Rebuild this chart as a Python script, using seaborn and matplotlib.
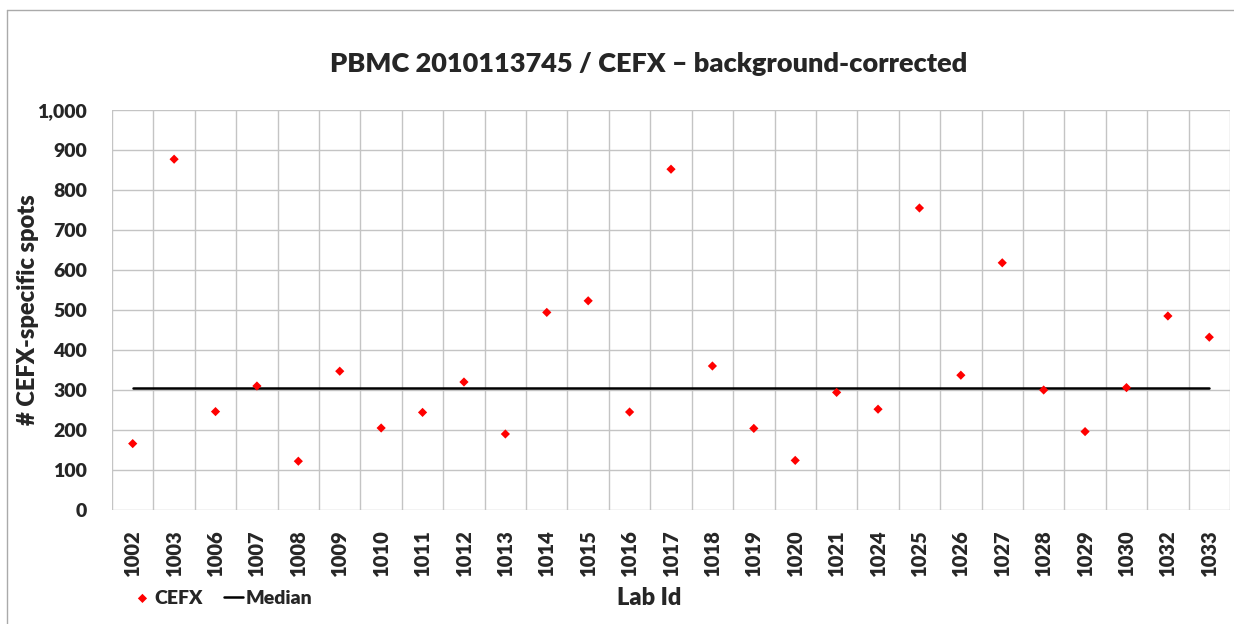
import numpy as np
import pandas as pd
import matplotlib
matplotlib.use("Agg")
import matplotlib.pyplot as plt
import seaborn as sns
from matplotlib.ticker import MultipleLocator, FuncFormatter

# data
lab_ids = ["1002", "1003", "1006", "1007", "1008", "1009", "1010", "1011", "1012",
           "1013", "1014", "1015", "1016", "1017", "1018", "1019", "1020", "1021",
           "1024", "1025", "1026", "1027", "1028", "1029", "1030", "1032", "1033"]
cefx_spots = [166, 877, 246, 310, 122, 347, 205, 244, 320,
              190, 494, 523, 245, 852, 360, 204, 124, 294,
              252, 755, 337, 618, 300, 196, 306, 485, 432]

median_value = float(np.median(cefx_spots))

df = pd.DataFrame({"Lab Id": lab_ids, "CEFX": cefx_spots})
df["Median"] = median_value

W = "heavy"

sns.set_style("white")
plt.rcParams["font.family"] = ["Lato", "DejaVu Sans"]
plt.rcParams["font.weight"] = W

fig = plt.figure(figsize=(12.34, 6.24), dpi=100)
ax = fig.add_axes([112 / 1234, 1 - 510 / 624, (1230 - 112) / 1234, 400 / 624])

sns.lineplot(data=df, x="Lab Id", y="Median", ax=ax, color="black", linewidth=1.8,
             label="Median", zorder=3)
sns.scatterplot(data=df, x="Lab Id", y="CEFX", ax=ax, color="red", marker="D",
                s=22, edgecolor="none", label="CEFX", zorder=4)

ax.set_xlim(-0.5, len(lab_ids) - 0.5)
ax.set_ylim(0, 1000)
ax.yaxis.set_major_locator(MultipleLocator(100))
ax.yaxis.set_major_formatter(FuncFormatter(lambda v, p: f"{int(v):,}"))

# grid lines between categories and at every 100
ax.set_xticks(np.arange(-0.5, len(lab_ids), 1.0), minor=True)
ax.grid(True, which="minor", axis="x", color="#c4c4c4", linewidth=1.0)
ax.grid(True, which="major", axis="y", color="#c4c4c4", linewidth=1.0)
ax.tick_params(which="both", length=0)
ax.tick_params(axis="x", which="major", pad=14, labelsize=14.5, rotation=90)
ax.tick_params(axis="y", pad=18, labelsize=14)
for lab in ax.get_xticklabels() + ax.get_yticklabels():
    lab.set_fontweight(W)
for s in ax.spines.values():
    s.set_visible(False)

ax.set_xlabel("")
ax.set_ylabel("# CEFX-specific spots", fontsize=17, fontweight=W, labelpad=-1)
fig.text(649 / 1234, 1 - 598 / 624, "Lab Id", ha="center", va="center",
         fontsize=17, fontweight=W)
fig.text(649 / 1234, 1 - 64 / 624, "PBMC 2010113745 / CEFX \u2013 background-corrected",
         ha="center", va="center", fontsize=19.5, fontweight=W)

# legend bottom-left
h, l = ax.get_legend_handles_labels()
order = [l.index("CEFX"), l.index("Median")]
ax.legend([h[i] for i in order], [l[i] for i in order], ncol=2, frameon=False,
          loc="center left", bbox_to_anchor=(123 / 1234, 1 - 598 / 624),
          bbox_transform=fig.transFigure, prop={"size": 14, "weight": W},
          handlelength=1.0, handletextpad=0.1, columnspacing=1.1, borderpad=0)

# chart area border (left and top visible)
fig.add_artist(plt.Line2D([7 / 1234, 7 / 1234], [0, 1 - 10 / 624],
                          transform=fig.transFigure, color="#aaaaaa", linewidth=1))
fig.add_artist(plt.Line2D([7 / 1234, 1], [1 - 10 / 624, 1 - 10 / 624],
                          transform=fig.transFigure, color="#aaaaaa", linewidth=1))

fig.savefig("out.png", dpi=100)
